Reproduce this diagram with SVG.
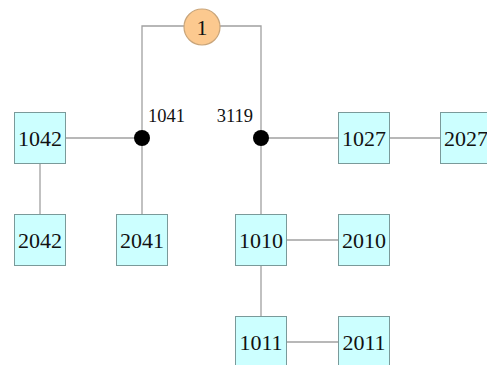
<svg xmlns="http://www.w3.org/2000/svg" width="487" height="365" viewBox="0 0 487 365">
  <style>
    .box { fill: #ccffff; stroke: #7a9a9a; stroke-width: 1; }
    .lbl { font-family: "Liberation Serif", "Times New Roman", serif; font-size: 22px; fill: #111; text-anchor: middle; dominant-baseline: central; }
    .tag { font-family: "Liberation Serif", "Times New Roman", serif; font-size: 18.5px; fill: #111; }
    .wire { stroke: #a0a0a0; stroke-width: 1.3; fill: none; }
    .dot { fill: #000; }
  </style>
  <rect width="487" height="365" fill="#ffffff"/>

  <!-- connectors -->
  <g id="connectors">
    <polyline class="wire" points="142,138 142,26 261,26 261,138"/>
    <line class="wire" x1="65" y1="138" x2="142" y2="138"/>
    <line class="wire" x1="40" y1="163" x2="40" y2="214"/>
    <line class="wire" x1="142" y1="138" x2="142" y2="214"/>
    <line class="wire" x1="261" y1="138" x2="338" y2="138"/>
    <line class="wire" x1="389" y1="138" x2="440" y2="138"/>
    <line class="wire" x1="261" y1="138" x2="261" y2="214"/>
    <line class="wire" x1="287" y1="240" x2="338" y2="240"/>
    <line class="wire" x1="261" y1="265" x2="261" y2="316"/>
    <line class="wire" x1="287" y1="342" x2="338" y2="342"/>
  </g>

  <!-- root -->
  <g id="n1">
    <circle cx="202" cy="27" r="18" fill="#fcc98f" stroke="#c9a57a" stroke-width="1.2"/>
    <text class="lbl" x="202" y="27">1</text>
  </g>

  <!-- junctions -->
  <g id="j1041">
    <circle class="dot" cx="142" cy="138" r="8"/>
    <text class="tag" x="148" y="122">1041</text>
  </g>
  <g id="j3119">
    <circle class="dot" cx="261" cy="138" r="8"/>
    <text class="tag" x="253" y="122" text-anchor="end">3119</text>
  </g>

  <!-- boxes -->
  <g id="n1042"><rect class="box" x="14.5" y="112.5" width="51" height="51"/><text class="lbl" x="40" y="138">1042</text></g>
  <g id="n2042"><rect class="box" x="14.5" y="214.5" width="51" height="51"/><text class="lbl" x="40" y="240">2042</text></g>
  <g id="n2041"><rect class="box" x="116.5" y="214.5" width="51" height="51"/><text class="lbl" x="142" y="240">2041</text></g>
  <g id="n1027"><rect class="box" x="338.5" y="112.5" width="51" height="51"/><text class="lbl" x="364" y="138">1027</text></g>
  <g id="n2027"><rect class="box" x="440.5" y="112.5" width="51" height="51"/><text class="lbl" x="466" y="138">2027</text></g>
  <g id="n1010"><rect class="box" x="235.5" y="214.5" width="51" height="51"/><text class="lbl" x="261" y="240">1010</text></g>
  <g id="n2010"><rect class="box" x="338.5" y="214.5" width="51" height="51"/><text class="lbl" x="364" y="240">2010</text></g>
  <g id="n1011"><rect class="box" x="235.5" y="316.5" width="51" height="51"/><text class="lbl" x="261" y="342">1011</text></g>
  <g id="n2011"><rect class="box" x="338.5" y="316.5" width="51" height="51"/><text class="lbl" x="364" y="342">2011</text></g>
</svg>
